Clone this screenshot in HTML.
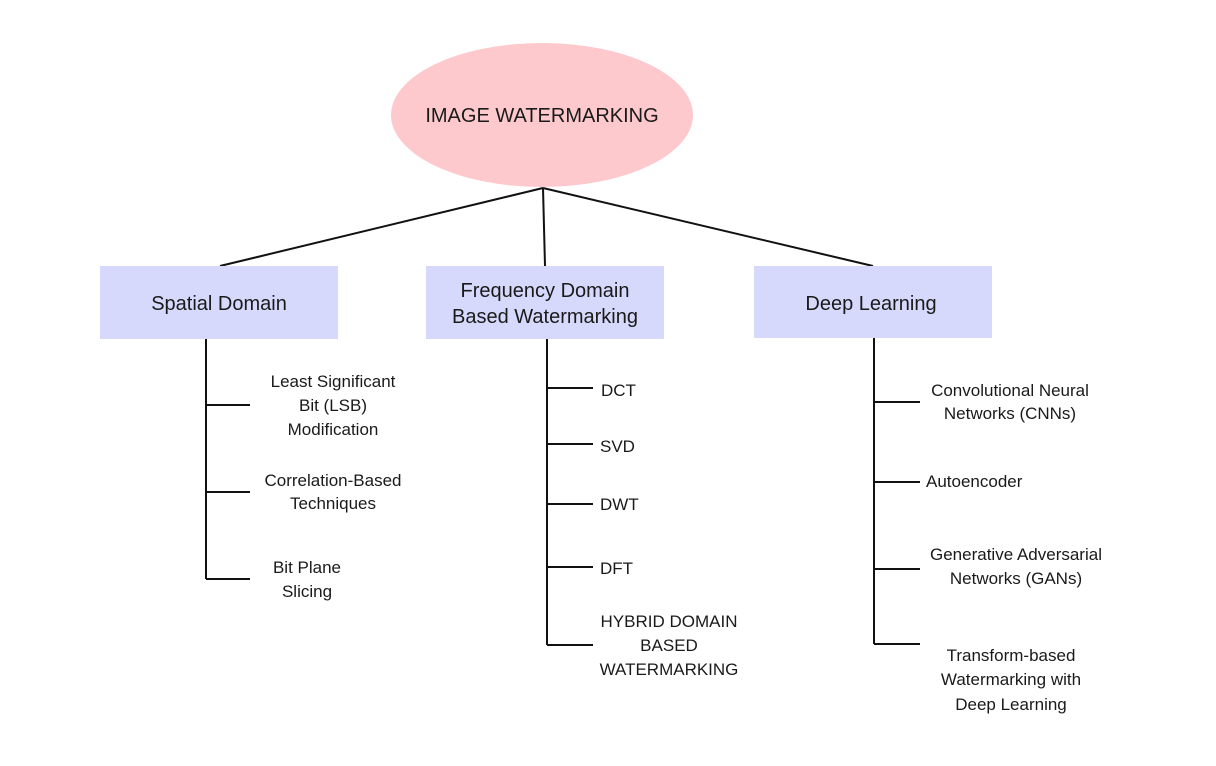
<!DOCTYPE html>
<html><head><meta charset="utf-8"><style>
html,body{margin:0;padding:0;background:#fff;}
svg{display:block;}
text{font-family:"Liberation Sans",sans-serif;fill:#1a1a1a;}
</style></head><body>
<svg width="1216" height="766" viewBox="0 0 1216 766" xmlns="http://www.w3.org/2000/svg">
<rect width="1216" height="766" fill="#fff"/>
<ellipse cx="542" cy="115" rx="151" ry="72" fill="#fdc9cd"/>
<text x="542" y="122" font-size="20" text-anchor="middle">IMAGE WATERMARKING</text>
<g stroke="#111" stroke-width="2" fill="none">
<line x1="543" y1="188" x2="220" y2="266"/>
<line x1="543" y1="188" x2="545" y2="266"/>
<line x1="543" y1="188" x2="873" y2="266"/>
<line x1="206" y1="339" x2="206" y2="579"/>
<line x1="206" y1="405" x2="250" y2="405"/>
<line x1="206" y1="492" x2="250" y2="492"/>
<line x1="206" y1="579" x2="250" y2="579"/>
<line x1="547" y1="339" x2="547" y2="645"/>
<line x1="547" y1="388" x2="593" y2="388"/>
<line x1="547" y1="444" x2="593" y2="444"/>
<line x1="547" y1="504" x2="593" y2="504"/>
<line x1="547" y1="567" x2="593" y2="567"/>
<line x1="547" y1="645" x2="593" y2="645"/>
<line x1="874" y1="338" x2="874" y2="644"/>
<line x1="874" y1="402" x2="920" y2="402"/>
<line x1="874" y1="482" x2="920" y2="482"/>
<line x1="874" y1="569" x2="920" y2="569"/>
<line x1="874" y1="644" x2="920" y2="644"/>
</g>
<rect x="100" y="266" width="238" height="73" fill="#d6d9fb"/>
<rect x="426" y="266" width="238" height="73" fill="#d6d9fb"/>
<rect x="754" y="266" width="238" height="72" fill="#d6d9fb"/>
<g font-size="20" text-anchor="middle">
<text x="219" y="310">Spatial Domain</text>
<text x="545" y="297">Frequency Domain</text>
<text x="545" y="323">Based Watermarking</text>
<text x="871" y="310">Deep Learning</text>
</g>
<g font-size="17" text-anchor="middle">
<text x="333" y="387">Least Significant</text>
<text x="333" y="411">Bit (LSB)</text>
<text x="333" y="435">Modification</text>
<text x="333" y="486">Correlation-Based</text>
<text x="333" y="509">Techniques</text>
<text x="307" y="573">Bit Plane</text>
<text x="307" y="597">Slicing</text>
<text x="669" y="627">HYBRID DOMAIN</text>
<text x="669" y="651">BASED</text>
<text x="669" y="675">WATERMARKING</text>
<text x="1010" y="396">Convolutional Neural</text>
<text x="1010" y="419">Networks (CNNs)</text>
<text x="1016" y="560">Generative Adversarial</text>
<text x="1016" y="584">Networks (GANs)</text>
<text x="1011" y="661">Transform-based</text>
<text x="1011" y="685">Watermarking with</text>
<text x="1011" y="710">Deep Learning</text>
</g>
<g font-size="17">
<text x="601" y="396">DCT</text>
<text x="600" y="452">SVD</text>
<text x="600" y="510">DWT</text>
<text x="600" y="574">DFT</text>
<text x="926" y="487">Autoencoder</text>
</g>
</svg>
</body></html>
